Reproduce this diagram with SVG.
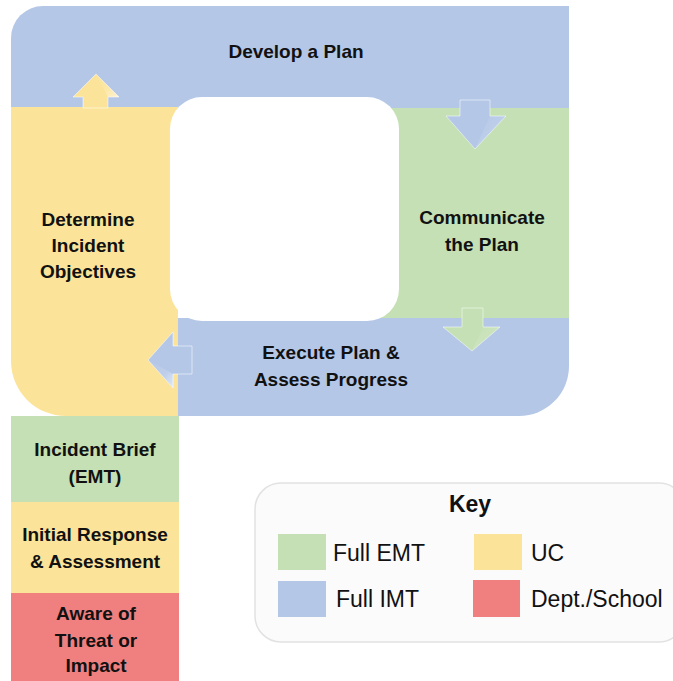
<svg xmlns="http://www.w3.org/2000/svg" width="673" height="681" viewBox="0 0 673 681">
<style>
.lbl{font-family:"Liberation Sans",Arial,sans-serif;font-weight:bold;font-size:19px;fill:#111;text-anchor:middle}
.key{font-family:"Liberation Sans",Arial,sans-serif;font-size:23px;fill:#111}
.blue{fill:#b4c7e7}
.green{fill:#c5e0b4}
.yellow{fill:#fbe49a}
.red{fill:#f08080}
.arrow{stroke:#ffffff;stroke-opacity:0.5;stroke-width:1}
</style>
<defs>
<linearGradient id="shine" x1="0" y1="0" x2="1" y2="1">
<stop offset="0" stop-color="#ffffff" stop-opacity="0"/>
<stop offset="0.6" stop-color="#ffffff" stop-opacity="0.15"/>
<stop offset="1" stop-color="#ffffff" stop-opacity="0.6"/>
</linearGradient>
</defs>
<rect width="673" height="681" fill="#ffffff"/>
<g id="develop">
<path class="blue" d="M11,108 V38 A32,32 0 0 1 43,6 H569 V108 Z"/>
<text class="lbl" x="296" y="58">Develop a Plan</text>
</g>
<g id="communicate">
<rect class="green" x="360" y="108" width="209" height="210"/>
<text class="lbl" x="482" y="224">Communicate</text>
<text class="lbl" x="482" y="251">the Plan</text>
</g>
<g id="execute">
<path class="blue" d="M178,318 H569 V366 A50,50 0 0 1 519,416 H178 Z"/>
<text class="lbl" x="331" y="359">Execute Plan &amp;</text>
<text class="lbl" x="331" y="386">Assess Progress</text>
</g>
<g id="determine">
<path class="yellow" d="M11,107 H178 V416 H66 A55,55 0 0 1 11,361 Z"/>
<text class="lbl" x="88" y="226">Determine</text>
<text class="lbl" x="88" y="252">Incident</text>
<text class="lbl" x="88" y="278">Objectives</text>
</g>
<g id="center-hole">
<rect x="170" y="97" width="229" height="224" rx="32" ry="32" fill="#ffffff"/>
</g>
<g id="incident-brief">
<rect class="green" x="11" y="416" width="168" height="86"/>
<text class="lbl" x="95" y="456">Incident Brief</text>
<text class="lbl" x="95" y="483">(EMT)</text>
</g>
<g id="initial-response">
<rect class="yellow" x="11" y="502" width="168" height="91"/>
<text class="lbl" x="95" y="541">Initial Response</text>
<text class="lbl" x="95" y="568">&amp; Assessment</text>
</g>
<g id="aware">
<rect class="red" x="11" y="593" width="168" height="88"/>
<text class="lbl" x="96" y="620">Aware of</text>
<text class="lbl" x="96" y="647">Threat or</text>
<text class="lbl" x="96" y="672">Impact</text>
</g>
<g id="connectors">
<polygon class="yellow arrow" points="83,108 83,97 73,97 96,74 119,97 108,97 108,108"/>
<polygon fill="url(#shine)" points="96,74 119,97 108,97"/>
<polygon class="blue arrow" points="460,100 490,100 490,116 506,116 475,149 446,116 460,116"/>
<polygon fill="url(#shine)" points="475,149 506,116 490,116"/>
<polygon class="green arrow" points="462,308 483,308 483,327 500,327 472,351 443,327 462,327"/>
<polygon fill="url(#shine)" points="472,351 500,327 483,327"/>
<polygon class="blue arrow" points="192,346 173,346 173,332 148,360 173,388 173,374 192,374"/>
<polygon fill="url(#shine)" points="148,360 173,388 173,374"/>
</g>
<g id="key">
<rect x="255" y="483" width="430" height="159" rx="26" ry="26" fill="#fbfbfb" stroke="#e2e2e2" stroke-width="1.5"/>
<text x="470" y="512" font-family="Liberation Sans,Arial,sans-serif" font-weight="bold" font-size="23" fill="#111" text-anchor="middle">Key</text>
<rect class="green" x="278" y="534" width="48" height="36"/>
<text class="key" x="333" y="561">Full EMT</text>
<rect class="blue" x="278" y="581" width="48" height="36"/>
<text class="key" x="336" y="607">Full IMT</text>
<rect class="yellow" x="474" y="534" width="48" height="36"/>
<text class="key" x="531" y="561">UC</text>
<rect class="red" x="473" y="580" width="47" height="37"/>
<text class="key" x="531" y="607">Dept./School</text>
</g>
</svg>
